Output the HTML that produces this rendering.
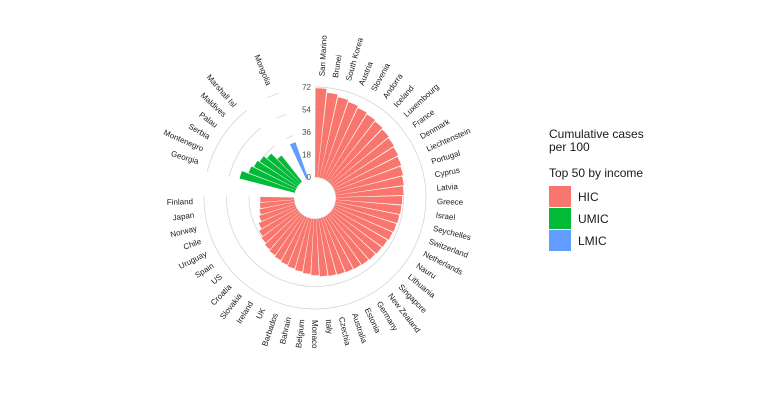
<!DOCTYPE html>
<html><head><meta charset="utf-8"><style>
body{margin:0;background:#fff;}
svg{display:block;font-family:"Liberation Sans",sans-serif;}
.l{font-size:8px;fill:#1a1a1a;}
.g circle{fill:none;stroke:#d0d0d0;stroke-width:0.7;}
.h circle{fill:none;stroke:#F8766D;}
.u circle{fill:none;stroke:#00BA38;}
.m circle{fill:none;stroke:#619CFF;}
</style></head><body>
<svg width="770" height="404" viewBox="0 0 770 404">
<rect width="770" height="404" fill="#fff"/>
<g transform="translate(315,198)">
<g class="g">
<circle r="21" pathLength="360" stroke-dasharray="271.6 88.4" transform="rotate(-90)"/>
<circle r="43.5" pathLength="360" stroke-dasharray="271.6 88.4" transform="rotate(-90)"/>
<circle r="66" pathLength="360" stroke-dasharray="271.6 88.4" transform="rotate(-90)"/>
<circle r="88.5" pathLength="360" stroke-dasharray="271.6 88.4" transform="rotate(-90)"/>
<circle r="111" pathLength="360" stroke-dasharray="271.6 88.4" transform="rotate(-90)"/>
<circle r="21" pathLength="360" stroke-dasharray="37.9 322.1" transform="rotate(194.21)"/>
<circle r="43.5" pathLength="360" stroke-dasharray="37.9 322.1" transform="rotate(194.21)"/>
<circle r="66" pathLength="360" stroke-dasharray="37.9 322.1" transform="rotate(194.21)"/>
<circle r="88.5" pathLength="360" stroke-dasharray="37.9 322.1" transform="rotate(194.21)"/>
<circle r="111" pathLength="360" stroke-dasharray="37.9 322.1" transform="rotate(194.21)"/>
<circle r="21" pathLength="360" stroke-dasharray="6.3 353.7" transform="rotate(244.74)"/>
<circle r="43.5" pathLength="360" stroke-dasharray="6.3 353.7" transform="rotate(244.74)"/>
<circle r="66" pathLength="360" stroke-dasharray="6.3 353.7" transform="rotate(244.74)"/>
<circle r="88.5" pathLength="360" stroke-dasharray="6.3 353.7" transform="rotate(244.74)"/>
<circle r="111" pathLength="360" stroke-dasharray="6.3 353.7" transform="rotate(244.74)"/>
</g>
<g class="h">
<circle r="65.375" stroke-width="88.75" pathLength="360" stroke-dasharray="5.8 400" transform="rotate(-89.75)"/>
<circle r="63.5" stroke-width="85" pathLength="360" stroke-dasharray="5.8 400" transform="rotate(-83.43)"/>
<circle r="62.25" stroke-width="82.5" pathLength="360" stroke-dasharray="5.8 400" transform="rotate(-77.12)"/>
<circle r="61.3125" stroke-width="80.625" pathLength="360" stroke-dasharray="5.8 400" transform="rotate(-70.80)"/>
<circle r="60.375" stroke-width="78.75" pathLength="360" stroke-dasharray="5.8 400" transform="rotate(-64.49)"/>
<circle r="59.75" stroke-width="77.5" pathLength="360" stroke-dasharray="5.8 400" transform="rotate(-58.17)"/>
<circle r="59.125" stroke-width="76.25" pathLength="360" stroke-dasharray="5.8 400" transform="rotate(-51.86)"/>
<circle r="58.5" stroke-width="75" pathLength="360" stroke-dasharray="5.8 400" transform="rotate(-45.54)"/>
<circle r="57.875" stroke-width="73.75" pathLength="360" stroke-dasharray="5.8 400" transform="rotate(-39.22)"/>
<circle r="57.25" stroke-width="72.5" pathLength="360" stroke-dasharray="5.8 400" transform="rotate(-32.91)"/>
<circle r="56.625" stroke-width="71.25" pathLength="360" stroke-dasharray="5.8 400" transform="rotate(-26.59)"/>
<circle r="56" stroke-width="70" pathLength="360" stroke-dasharray="5.8 400" transform="rotate(-20.28)"/>
<circle r="55.375" stroke-width="68.75" pathLength="360" stroke-dasharray="5.8 400" transform="rotate(-13.96)"/>
<circle r="54.75" stroke-width="67.5" pathLength="360" stroke-dasharray="5.8 400" transform="rotate(-7.64)"/>
<circle r="54.125" stroke-width="66.25" pathLength="360" stroke-dasharray="5.8 400" transform="rotate(-1.33)"/>
<circle r="53.8125" stroke-width="65.625" pathLength="360" stroke-dasharray="5.8 400" transform="rotate(4.99)"/>
<circle r="53.5" stroke-width="65" pathLength="360" stroke-dasharray="5.8 400" transform="rotate(11.30)"/>
<circle r="53.1875" stroke-width="64.375" pathLength="360" stroke-dasharray="5.8 400" transform="rotate(17.62)"/>
<circle r="52.875" stroke-width="63.75" pathLength="360" stroke-dasharray="5.8 400" transform="rotate(23.93)"/>
<circle r="52.25" stroke-width="62.5" pathLength="360" stroke-dasharray="5.8 400" transform="rotate(30.25)"/>
<circle r="51.9375" stroke-width="61.875" pathLength="360" stroke-dasharray="5.8 400" transform="rotate(36.57)"/>
<circle r="51.625" stroke-width="61.25" pathLength="360" stroke-dasharray="5.8 400" transform="rotate(42.88)"/>
<circle r="51.3125" stroke-width="60.625" pathLength="360" stroke-dasharray="5.8 400" transform="rotate(49.20)"/>
<circle r="51" stroke-width="60" pathLength="360" stroke-dasharray="5.8 400" transform="rotate(55.51)"/>
<circle r="50.6875" stroke-width="59.375" pathLength="360" stroke-dasharray="5.8 400" transform="rotate(61.83)"/>
<circle r="50.375" stroke-width="58.75" pathLength="360" stroke-dasharray="5.8 400" transform="rotate(68.14)"/>
<circle r="50.0625" stroke-width="58.125" pathLength="360" stroke-dasharray="5.8 400" transform="rotate(74.46)"/>
<circle r="49.75" stroke-width="57.5" pathLength="360" stroke-dasharray="5.8 400" transform="rotate(80.78)"/>
<circle r="49.125" stroke-width="56.25" pathLength="360" stroke-dasharray="5.8 400" transform="rotate(87.09)"/>
<circle r="48.5" stroke-width="55" pathLength="360" stroke-dasharray="5.8 400" transform="rotate(93.41)"/>
<circle r="47.875" stroke-width="53.75" pathLength="360" stroke-dasharray="5.8 400" transform="rotate(99.72)"/>
<circle r="47.25" stroke-width="52.5" pathLength="360" stroke-dasharray="5.8 400" transform="rotate(106.04)"/>
<circle r="46.625" stroke-width="51.25" pathLength="360" stroke-dasharray="5.8 400" transform="rotate(112.35)"/>
<circle r="46" stroke-width="50" pathLength="360" stroke-dasharray="5.8 400" transform="rotate(118.67)"/>
<circle r="45.375" stroke-width="48.75" pathLength="360" stroke-dasharray="5.8 400" transform="rotate(124.99)"/>
<circle r="44.75" stroke-width="47.5" pathLength="360" stroke-dasharray="5.8 400" transform="rotate(131.30)"/>
<circle r="43.8125" stroke-width="45.625" pathLength="360" stroke-dasharray="5.8 400" transform="rotate(137.62)"/>
<circle r="42.875" stroke-width="43.75" pathLength="360" stroke-dasharray="5.8 400" transform="rotate(143.93)"/>
<circle r="41.3125" stroke-width="40.625" pathLength="360" stroke-dasharray="5.8 400" transform="rotate(150.25)"/>
<circle r="39.75" stroke-width="37.5" pathLength="360" stroke-dasharray="5.8 400" transform="rotate(156.56)"/>
<circle r="38.8125" stroke-width="35.625" pathLength="360" stroke-dasharray="5.8 400" transform="rotate(162.88)"/>
<circle r="38.1875" stroke-width="34.375" pathLength="360" stroke-dasharray="5.8 400" transform="rotate(169.20)"/>
<circle r="37.875" stroke-width="33.75" pathLength="360" stroke-dasharray="5.8 400" transform="rotate(175.51)"/>
</g>
<g class="u">
<circle r="49.4375" stroke-width="56.875" pathLength="360" stroke-dasharray="5.8 400" transform="rotate(194.46)"/>
<circle r="46" stroke-width="50" pathLength="360" stroke-dasharray="5.8 400" transform="rotate(200.78)"/>
<circle r="44.75" stroke-width="47.5" pathLength="360" stroke-dasharray="5.8 400" transform="rotate(207.09)"/>
<circle r="43.5" stroke-width="45" pathLength="360" stroke-dasharray="5.8 400" transform="rotate(213.41)"/>
<circle r="41.625" stroke-width="41.25" pathLength="360" stroke-dasharray="5.8 400" transform="rotate(219.72)"/>
<circle r="37.5625" stroke-width="33.125" pathLength="360" stroke-dasharray="5.8 400" transform="rotate(226.04)"/>
</g>
<g class="m">
<circle r="40.0625" stroke-width="38.125" pathLength="360" stroke-dasharray="5.8 400" transform="rotate(244.99)"/>
</g>
<g font-size="8" fill="#4d4d4d" text-anchor="end">
<text x="-4" y="-111" dy="0.35em">72</text>
<text x="-4" y="-88.5" dy="0.35em">54</text>
<text x="-4" y="-66" dy="0.35em">36</text>
<text x="-4" y="-43.5" dy="0.35em">18</text>
<text x="-4" y="-21" dy="0.35em">0</text>
</g>
<g class="l">
<text x="122" dy="0.35em" transform="rotate(-86.84)">San Marino</text>
<text x="122" dy="0.35em" transform="rotate(-80.53)">Brunei</text>
<text x="122" dy="0.35em" transform="rotate(-74.21)">South Korea</text>
<text x="122" dy="0.35em" transform="rotate(-67.89)">Austria</text>
<text x="122" dy="0.35em" transform="rotate(-61.58)">Slovenia</text>
<text x="122" dy="0.35em" transform="rotate(-55.26)">Andorra</text>
<text x="122" dy="0.35em" transform="rotate(-48.95)">Iceland</text>
<text x="122" dy="0.35em" transform="rotate(-42.63)">Luxembourg</text>
<text x="122" dy="0.35em" transform="rotate(-36.32)">France</text>
<text x="122" dy="0.35em" transform="rotate(-30)">Denmark</text>
<text x="122" dy="0.35em" transform="rotate(-23.68)">Liechtenstein</text>
<text x="122" dy="0.35em" transform="rotate(-17.37)">Portugal</text>
<text x="122" dy="0.35em" transform="rotate(-11.05)">Cyprus</text>
<text x="122" dy="0.35em" transform="rotate(-4.74)">Latvia</text>
<text x="122" dy="0.35em" transform="rotate(1.58)">Greece</text>
<text x="122" dy="0.35em" transform="rotate(7.89)">Israel</text>
<text x="122" dy="0.35em" transform="rotate(14.21)">Seychelles</text>
<text x="122" dy="0.35em" transform="rotate(20.53)">Switzerland</text>
<text x="122" dy="0.35em" transform="rotate(26.84)">Netherlands</text>
<text x="122" dy="0.35em" transform="rotate(33.16)">Nauru</text>
<text x="122" dy="0.35em" transform="rotate(39.47)">Lithuania</text>
<text x="122" dy="0.35em" transform="rotate(45.79)">Singapore</text>
<text x="122" dy="0.35em" transform="rotate(52.11)">New Zealand</text>
<text x="122" dy="0.35em" transform="rotate(58.42)">Germany</text>
<text x="122" dy="0.35em" transform="rotate(64.74)">Estonia</text>
<text x="122" dy="0.35em" transform="rotate(71.05)">Australia</text>
<text x="122" dy="0.35em" transform="rotate(77.37)">Czechia</text>
<text x="122" dy="0.35em" transform="rotate(83.68)">Italy</text>
<text x="122" dy="0.35em" transform="rotate(90)">Monaco</text>
</g>
<g class="l" text-anchor="end">
<text x="-122" dy="0.35em" transform="rotate(-83.68)">Belgium</text>
<text x="-122" dy="0.35em" transform="rotate(-77.37)">Bahrain</text>
<text x="-122" dy="0.35em" transform="rotate(-71.05)">Barbados</text>
<text x="-122" dy="0.35em" transform="rotate(-64.74)">UK</text>
<text x="-122" dy="0.35em" transform="rotate(-58.42)">Ireland</text>
<text x="-122" dy="0.35em" transform="rotate(-52.11)">Slovakia</text>
<text x="-122" dy="0.35em" transform="rotate(-45.79)">Croatia</text>
<text x="-122" dy="0.35em" transform="rotate(-39.47)">US</text>
<text x="-122" dy="0.35em" transform="rotate(-33.16)">Spain</text>
<text x="-122" dy="0.35em" transform="rotate(-26.84)">Uruguay</text>
<text x="-122" dy="0.35em" transform="rotate(-20.53)">Chile</text>
<text x="-122" dy="0.35em" transform="rotate(-14.21)">Norway</text>
<text x="-122" dy="0.35em" transform="rotate(-7.89)">Japan</text>
<text x="-122" dy="0.35em" transform="rotate(-1.58)">Finland</text>
<text x="-122" dy="0.35em" transform="rotate(17.37)">Georgia</text>
<text x="-122" dy="0.35em" transform="rotate(23.68)">Montenegro</text>
<text x="-122" dy="0.35em" transform="rotate(30)">Serbia</text>
<text x="-122" dy="0.35em" transform="rotate(36.32)">Palau</text>
<text x="-122" dy="0.35em" transform="rotate(42.63)">Maldives</text>
<text x="-122" dy="0.35em" transform="rotate(48.95)">Marshall Isl</text>
<text x="-122" dy="0.35em" transform="rotate(67.89)">Mongolia</text>
</g>
</g>
<g font-size="12" fill="#1a1a1a">
<text x="549" y="138">Cumulative cases</text>
<text x="549" y="151">per 100</text>
<text x="549" y="177">Top 50 by income</text>
<rect x="549" y="186" width="22" height="21" fill="#F8766D"/>
<rect x="549" y="208" width="22" height="21" fill="#00BA38"/>
<rect x="549" y="230" width="22" height="21" fill="#619CFF"/>
<text x="578" y="201">HIC</text>
<text x="578" y="223">UMIC</text>
<text x="578" y="245">LMIC</text>
</g>
</svg>
</body></html>
